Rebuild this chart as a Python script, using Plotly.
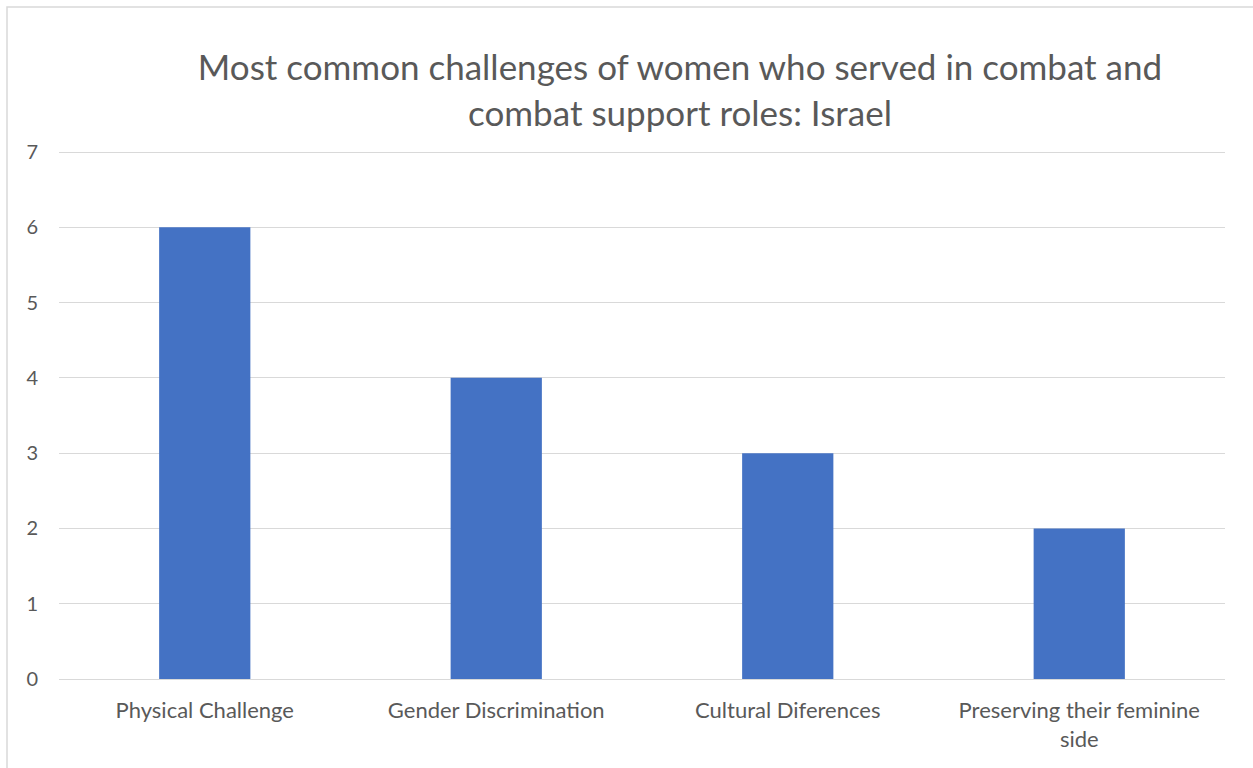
import plotly.graph_objects as go

categories = ["Physical Challenge", "Gender Discrimination", "Cultural Diferences", "Preserving their feminine<br>side"]
values = [6, 4, 3, 2]
y_ticks = [0, 1, 2, 3, 4, 5, 6, 7]
title_text = "Most common challenges of women who served in combat and<br>combat support roles: Israel"

W, H = 1253, 768
L, R, T, B = 59, 28, 142, 89
pw, ph = W - L - R, H - T - B
unit = (679 - 152) / 7.0
ymax = ph / unit

fig = go.Figure(go.Bar(x=categories, y=values, marker=dict(color="#4472C4", line=dict(width=0)), width=0.313))

fig.update_layout(
    width=W, height=H,
    margin=dict(l=L, r=R, t=T, b=B),
    paper_bgcolor="white", plot_bgcolor="white",
    font=dict(family="Lato, Open Sans, sans-serif", color="#595959"),
    title=dict(text=title_text, x=680 / W, xanchor="center", xref="container",
               y=1 - 80 / H, yanchor="top", yref="container",
               font=dict(size=35, color="#595959", family="Lato, Open Sans, sans-serif")),
    showlegend=False,
)
fig.update_xaxes(showgrid=False, showline=False, ticks="", tickfont=dict(size=22, color="#595959"),
                 ticklabelstandoff=16)
fig.update_yaxes(range=[0, ymax], tickvals=y_ticks, showgrid=True, gridcolor="#d9d9d9", gridwidth=1,
                 zeroline=True, zerolinecolor="#d9d9d9", zerolinewidth=1, showline=False, ticks="",
                 tickfont=dict(size=20, color="#595959"), ticklabelstandoff=20)

fig.add_shape(type="rect", xref="paper", yref="paper",
              x0=(7 - L) / pw, x1=(W + 20 - L) / pw,
              y0=(H - B - (H + 20)) / ph, y1=(H - B - 7) / ph,
              line=dict(color="#d9d9d9", width=1.5), fillcolor="rgba(0,0,0,0)", layer="below")

fig.write_html("out.html")
